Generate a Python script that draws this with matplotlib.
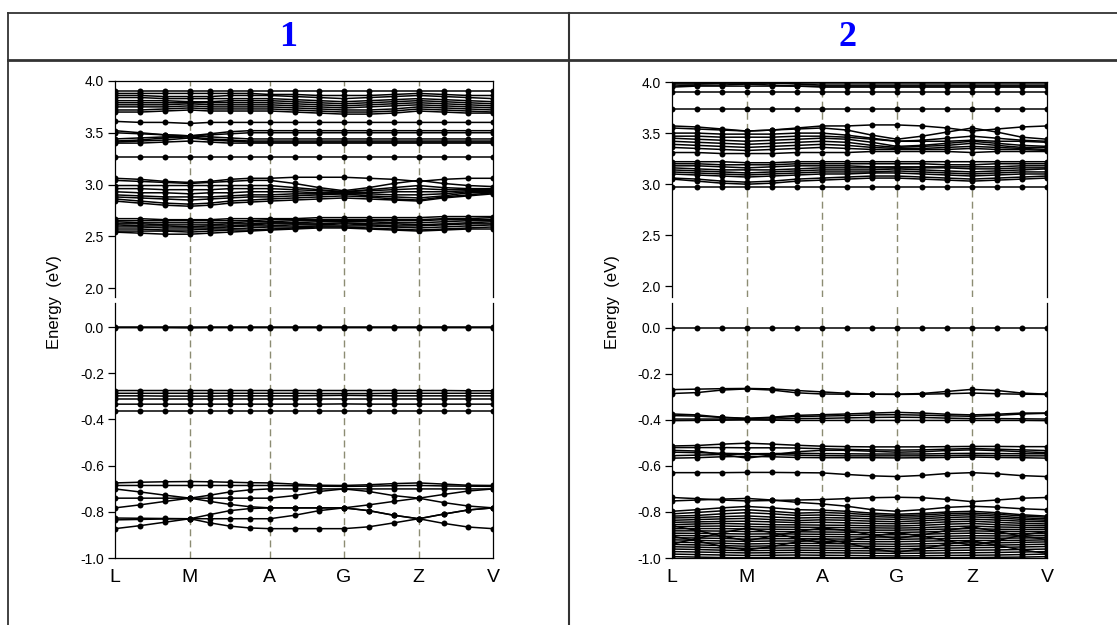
import matplotlib
matplotlib.use("Agg")
import matplotlib.pyplot as plt
from matplotlib.lines import Line2D

plt.rcParams['font.family'] = ['Liberation Sans', 'DejaVu Sans']
plt.rcParams['axes.unicode_minus'] = False

# k-path (distance along path) and labels
sym_labels = ["L", "M", "A", "G", "Z", "V"]
k1 = [0, 0.333, 0.667, 1.0, 1.267, 1.533, 1.8, 2.067, 2.396, 2.724, 3.053,
      3.387, 3.72, 4.053, 4.384, 4.714, 5.044]
k1_sym = [0, 1.0, 2.067, 3.053, 4.053, 5.044]
k2 = [0, 0.333, 0.667, 1.0, 1.333, 1.667, 2.0, 2.333, 2.667, 3.0, 3.333,
      3.667, 4.0, 4.333, 4.667, 5.0]
k2_sym = [0, 1.0, 2.0, 3.0, 4.0, 5.0]

# ---- panel 1 bands (eV) ----
p1_cb_high = [
    [3.90,3.90,3.90,3.90,3.90,3.90,3.90,3.90,3.90,3.90,3.90,3.90,3.90,3.90,3.90,3.90,3.90],
    [3.88,3.88,3.88,3.88,3.88,3.88,3.88,3.87,3.87,3.86,3.86,3.86,3.87,3.88,3.87,3.86,3.86],
    [3.86,3.86,3.85,3.85,3.85,3.86,3.86,3.86,3.85,3.84,3.83,3.84,3.85,3.86,3.85,3.84,3.83],
    [3.84,3.84,3.83,3.83,3.83,3.83,3.83,3.83,3.82,3.81,3.80,3.81,3.82,3.83,3.82,3.81,3.80],
    [3.81,3.81,3.81,3.80,3.80,3.81,3.81,3.81,3.80,3.79,3.78,3.79,3.80,3.81,3.80,3.79,3.78],
    [3.79,3.79,3.79,3.79,3.79,3.79,3.79,3.79,3.78,3.77,3.76,3.77,3.78,3.79,3.78,3.77,3.76],
    [3.77,3.77,3.77,3.78,3.77,3.77,3.77,3.77,3.76,3.75,3.74,3.75,3.76,3.77,3.76,3.75,3.74],
    [3.75,3.75,3.75,3.76,3.75,3.75,3.75,3.75,3.74,3.73,3.72,3.72,3.73,3.75,3.74,3.73,3.72],
    [3.72,3.72,3.73,3.74,3.73,3.73,3.73,3.73,3.72,3.71,3.70,3.70,3.71,3.73,3.72,3.71,3.70],
    [3.70,3.70,3.71,3.72,3.71,3.71,3.71,3.71,3.70,3.69,3.68,3.68,3.69,3.71,3.70,3.69,3.69],
    [3.61,3.60,3.60,3.59,3.60,3.60,3.60,3.60,3.60,3.60,3.60,3.60,3.60,3.60,3.60,3.60,3.60],
]
p1_cb_mid = [
    [3.52,3.50,3.48,3.47,3.49,3.51,3.52,3.52,3.52,3.52,3.52,3.52,3.52,3.52,3.52,3.52,3.52],
    [3.50,3.49,3.48,3.47,3.48,3.49,3.50,3.50,3.50,3.50,3.50,3.50,3.50,3.50,3.50,3.50,3.50],
    [3.44,3.45,3.46,3.47,3.46,3.45,3.44,3.44,3.44,3.44,3.44,3.44,3.44,3.44,3.44,3.44,3.44],
    [3.42,3.43,3.45,3.46,3.44,3.43,3.42,3.42,3.42,3.42,3.42,3.42,3.42,3.42,3.42,3.42,3.42],
    [3.41,3.42,3.43,3.45,3.43,3.42,3.41,3.41,3.41,3.41,3.41,3.41,3.41,3.41,3.41,3.41,3.41],
    [3.40,3.40,3.41,3.42,3.41,3.40,3.40,3.40,3.40,3.40,3.40,3.40,3.40,3.40,3.40,3.40,3.40],
    [3.27,3.27,3.27,3.27,3.27,3.27,3.27,3.27,3.27,3.27,3.27,3.27,3.27,3.27,3.27,3.27,3.27],
]
p1_cb_3 = [
    [3.06,3.05,3.03,3.02,3.03,3.05,3.06,3.06,3.07,3.07,3.07,3.06,3.05,3.03,3.05,3.06,3.06],
    [3.04,3.03,3.02,3.01,3.02,3.03,3.04,3.04,3.01,2.97,2.94,2.97,3.01,3.04,3.01,2.99,2.98],
    [2.99,2.99,2.99,2.99,2.99,2.99,2.99,2.99,2.97,2.95,2.93,2.95,2.97,2.99,2.97,2.96,2.96],
    [2.96,2.96,2.95,2.95,2.95,2.96,2.96,2.96,2.95,2.94,2.93,2.94,2.95,2.96,2.95,2.95,2.95],
    [2.93,2.92,2.92,2.91,2.92,2.92,2.93,2.93,2.93,2.92,2.92,2.92,2.93,2.93,2.93,2.94,2.94],
    [2.90,2.89,2.88,2.88,2.88,2.89,2.90,2.90,2.91,2.91,2.91,2.91,2.90,2.90,2.91,2.93,2.93],
    [2.88,2.87,2.86,2.85,2.86,2.87,2.88,2.88,2.89,2.90,2.91,2.89,2.88,2.87,2.89,2.92,2.92],
    [2.86,2.84,2.82,2.81,2.82,2.84,2.85,2.86,2.87,2.88,2.89,2.88,2.86,2.85,2.88,2.90,2.92],
    [2.84,2.82,2.80,2.79,2.80,2.82,2.83,2.84,2.85,2.86,2.87,2.86,2.85,2.84,2.87,2.89,2.91],
]
p1_cb_low = [
    [2.67,2.67,2.66,2.66,2.66,2.67,2.67,2.67,2.67,2.68,2.68,2.68,2.68,2.68,2.69,2.69,2.69],
    [2.65,2.65,2.65,2.65,2.65,2.65,2.65,2.66,2.66,2.66,2.66,2.66,2.66,2.66,2.67,2.67,2.68],
    [2.64,2.63,2.63,2.63,2.63,2.63,2.64,2.64,2.65,2.65,2.65,2.65,2.65,2.65,2.66,2.66,2.66],
    [2.62,2.62,2.61,2.61,2.61,2.62,2.62,2.63,2.63,2.64,2.64,2.64,2.63,2.63,2.64,2.65,2.65],
    [2.61,2.60,2.60,2.59,2.60,2.60,2.61,2.62,2.62,2.62,2.63,2.62,2.62,2.61,2.62,2.63,2.64],
    [2.59,2.59,2.58,2.58,2.58,2.59,2.60,2.60,2.61,2.61,2.62,2.61,2.60,2.60,2.61,2.62,2.62],
    [2.57,2.57,2.56,2.56,2.57,2.57,2.58,2.59,2.59,2.60,2.60,2.60,2.59,2.58,2.59,2.60,2.61],
    [2.55,2.55,2.55,2.54,2.55,2.56,2.56,2.57,2.58,2.59,2.59,2.58,2.57,2.56,2.57,2.58,2.59],
    [2.54,2.53,2.52,2.52,2.53,2.54,2.55,2.56,2.57,2.58,2.58,2.57,2.56,2.55,2.56,2.57,2.57],
]
p1_vb_top = [
    [0.0,0.0,0.0,0.0,0.0,0.0,0.0,0.0,0.0,0.0,0.0,0.0,0.0,0.0,0.0,0.0,0.0],
    [-0.003,-0.003,-0.003,-0.004,-0.003,-0.003,-0.003,-0.003,-0.003,-0.003,-0.003,-0.003,-0.003,-0.003,-0.003,-0.003,-0.003],
]
p1_vb_mid = [
    [-0.275,-0.275,-0.275,-0.275,-0.275,-0.275,-0.275,-0.275,-0.275,-0.275,-0.275,-0.275,-0.275,-0.275,-0.275,-0.276,-0.276],
    [-0.287,-0.287,-0.287,-0.287,-0.287,-0.287,-0.287,-0.287,-0.287,-0.288,-0.288,-0.288,-0.287,-0.287,-0.287,-0.287,-0.287],
    [-0.298,-0.298,-0.299,-0.299,-0.299,-0.298,-0.298,-0.298,-0.298,-0.297,-0.296,-0.297,-0.298,-0.298,-0.298,-0.298,-0.298],
    [-0.312,-0.312,-0.312,-0.312,-0.312,-0.312,-0.312,-0.312,-0.312,-0.312,-0.312,-0.312,-0.312,-0.312,-0.312,-0.312,-0.312],
    [-0.334,-0.334,-0.334,-0.334,-0.334,-0.334,-0.334,-0.334,-0.334,-0.334,-0.333,-0.334,-0.334,-0.334,-0.334,-0.334,-0.334],
    [-0.362,-0.362,-0.362,-0.362,-0.362,-0.362,-0.362,-0.362,-0.362,-0.362,-0.362,-0.362,-0.362,-0.362,-0.362,-0.362,-0.362],
]
p1_vb_low = [
    [-0.675,-0.672,-0.670,-0.669,-0.670,-0.672,-0.674,-0.675,-0.680,-0.685,-0.686,-0.683,-0.678,-0.675,-0.680,-0.685,-0.686],
    [-0.686,-0.686,-0.686,-0.686,-0.686,-0.686,-0.686,-0.686,-0.687,-0.689,-0.690,-0.689,-0.687,-0.686,-0.688,-0.689,-0.690],
    [-0.701,-0.714,-0.728,-0.741,-0.755,-0.768,-0.778,-0.783,-0.783,-0.783,-0.783,-0.770,-0.755,-0.741,-0.725,-0.710,-0.701],
    [-0.741,-0.741,-0.741,-0.741,-0.741,-0.741,-0.741,-0.741,-0.730,-0.712,-0.701,-0.712,-0.730,-0.741,-0.760,-0.775,-0.783],
    [-0.783,-0.770,-0.755,-0.741,-0.728,-0.714,-0.705,-0.701,-0.701,-0.701,-0.701,-0.701,-0.701,-0.701,-0.701,-0.701,-0.701],
    [-0.827,-0.828,-0.829,-0.830,-0.830,-0.830,-0.830,-0.830,-0.815,-0.795,-0.783,-0.795,-0.815,-0.830,-0.810,-0.792,-0.783],
    [-0.835,-0.833,-0.831,-0.830,-0.812,-0.795,-0.786,-0.783,-0.783,-0.783,-0.783,-0.795,-0.815,-0.830,-0.850,-0.866,-0.873],
    [-0.873,-0.860,-0.845,-0.830,-0.848,-0.862,-0.870,-0.873,-0.873,-0.873,-0.873,-0.865,-0.848,-0.830,-0.810,-0.792,-0.783],
]

# ---- panel 2 bands (eV) ----
p2_cb_high = [
    [3.99,3.99,3.99,3.99,3.99,3.99,3.99,3.99,3.99,3.99,3.99,3.99,3.99,3.99,3.99,3.99],
    [3.98,3.98,3.99,3.99,3.99,3.98,3.97,3.97,3.97,3.97,3.97,3.97,3.97,3.97,3.97,3.97],
    [3.96,3.97,3.97,3.98,3.97,3.96,3.96,3.96,3.96,3.96,3.96,3.96,3.96,3.96,3.96,3.96],
    [3.95,3.96,3.96,3.96,3.96,3.96,3.95,3.95,3.95,3.95,3.95,3.95,3.95,3.95,3.95,3.95],
    [3.90,3.90,3.90,3.90,3.90,3.90,3.90,3.90,3.90,3.90,3.90,3.90,3.90,3.90,3.90,3.90],
    [3.74,3.74,3.74,3.74,3.74,3.74,3.74,3.74,3.74,3.74,3.74,3.74,3.74,3.74,3.74,3.74],
]
p2_cb_mid = [
    [3.57,3.56,3.54,3.52,3.53,3.55,3.57,3.57,3.58,3.58,3.57,3.55,3.52,3.54,3.56,3.57],
    [3.55,3.54,3.53,3.52,3.53,3.54,3.55,3.53,3.48,3.44,3.47,3.51,3.55,3.51,3.46,3.44],
    [3.50,3.50,3.49,3.49,3.49,3.50,3.50,3.48,3.45,3.42,3.43,3.45,3.47,3.45,3.43,3.42],
    [3.47,3.47,3.46,3.46,3.46,3.47,3.47,3.46,3.44,3.42,3.42,3.42,3.43,3.42,3.42,3.41],
    [3.45,3.44,3.43,3.42,3.43,3.44,3.45,3.44,3.41,3.37,3.38,3.40,3.42,3.40,3.38,3.37],
    [3.42,3.41,3.40,3.39,3.40,3.41,3.42,3.41,3.38,3.36,3.37,3.38,3.40,3.38,3.36,3.36],
    [3.39,3.38,3.37,3.36,3.37,3.38,3.39,3.38,3.36,3.35,3.35,3.36,3.37,3.36,3.35,3.34],
    [3.36,3.35,3.34,3.33,3.34,3.35,3.36,3.35,3.34,3.34,3.34,3.34,3.35,3.34,3.34,3.33],
    [3.31,3.31,3.30,3.30,3.30,3.31,3.31,3.31,3.32,3.32,3.32,3.32,3.31,3.32,3.32,3.32],
]
p2_cb_low = [
    [3.22,3.22,3.22,3.21,3.21,3.22,3.22,3.22,3.22,3.22,3.22,3.22,3.22,3.22,3.22,3.22],
    [3.20,3.20,3.19,3.19,3.19,3.20,3.20,3.20,3.20,3.20,3.20,3.19,3.19,3.20,3.20,3.20],
    [3.18,3.18,3.17,3.16,3.17,3.18,3.18,3.18,3.17,3.17,3.17,3.17,3.17,3.17,3.18,3.18],
    [3.16,3.15,3.14,3.14,3.14,3.15,3.16,3.16,3.16,3.16,3.16,3.16,3.15,3.15,3.16,3.16],
    [3.14,3.13,3.12,3.11,3.12,3.13,3.14,3.14,3.14,3.15,3.14,3.13,3.12,3.13,3.14,3.15],
    [3.12,3.11,3.10,3.09,3.10,3.11,3.12,3.12,3.12,3.13,3.12,3.11,3.10,3.11,3.12,3.12],
    [3.10,3.09,3.08,3.07,3.08,3.09,3.10,3.10,3.11,3.11,3.10,3.09,3.08,3.09,3.10,3.10],
    [3.06,3.05,3.03,3.02,3.03,3.05,3.06,3.07,3.08,3.08,3.07,3.06,3.05,3.06,3.07,3.08],
    [3.05,3.03,3.01,3.00,3.01,3.03,3.04,3.05,3.06,3.06,3.05,3.04,3.03,3.04,3.05,3.06],
    [2.97,2.97,2.97,2.97,2.97,2.97,2.97,2.97,2.97,2.97,2.97,2.97,2.97,2.97,2.97,2.97],
]
p2_vb_top = [
    [0.0,0.0,0.0,0.0,0.0,0.0,0.0,0.0,0.0,0.0,0.0,0.0,0.0,0.0,0.0,0.0],
    [-0.268,-0.266,-0.264,-0.263,-0.265,-0.272,-0.278,-0.284,-0.288,-0.288,-0.285,-0.276,-0.267,-0.272,-0.283,-0.288],
    [-0.285,-0.281,-0.270,-0.265,-0.270,-0.282,-0.287,-0.288,-0.288,-0.289,-0.288,-0.286,-0.283,-0.286,-0.288,-0.289],
]
p2_vb_mid = [
    [-0.374,-0.378,-0.388,-0.393,-0.388,-0.380,-0.377,-0.374,-0.370,-0.367,-0.370,-0.375,-0.378,-0.375,-0.370,-0.370],
    [-0.381,-0.383,-0.389,-0.394,-0.390,-0.385,-0.383,-0.381,-0.378,-0.377,-0.379,-0.382,-0.384,-0.380,-0.374,-0.371],
    [-0.396,-0.396,-0.396,-0.397,-0.396,-0.394,-0.393,-0.391,-0.389,-0.388,-0.389,-0.392,-0.394,-0.394,-0.395,-0.396],
    [-0.403,-0.402,-0.401,-0.400,-0.401,-0.402,-0.402,-0.402,-0.402,-0.402,-0.402,-0.402,-0.402,-0.402,-0.402,-0.403],
    [-0.513,-0.511,-0.505,-0.501,-0.505,-0.510,-0.514,-0.516,-0.517,-0.517,-0.517,-0.516,-0.515,-0.515,-0.516,-0.516],
    [-0.520,-0.520,-0.520,-0.521,-0.521,-0.522,-0.525,-0.528,-0.530,-0.531,-0.530,-0.527,-0.524,-0.527,-0.530,-0.533],
    [-0.532,-0.535,-0.550,-0.566,-0.552,-0.538,-0.532,-0.532,-0.536,-0.540,-0.538,-0.533,-0.530,-0.533,-0.538,-0.542],
    [-0.540,-0.542,-0.545,-0.547,-0.546,-0.545,-0.546,-0.547,-0.548,-0.548,-0.548,-0.546,-0.545,-0.546,-0.547,-0.547],
    [-0.555,-0.553,-0.550,-0.548,-0.550,-0.553,-0.555,-0.556,-0.556,-0.556,-0.556,-0.555,-0.553,-0.555,-0.556,-0.556],
    [-0.566,-0.564,-0.560,-0.558,-0.560,-0.563,-0.564,-0.564,-0.564,-0.565,-0.564,-0.563,-0.561,-0.563,-0.564,-0.566],
    [-0.629,-0.629,-0.629,-0.628,-0.628,-0.629,-0.630,-0.637,-0.643,-0.646,-0.641,-0.633,-0.629,-0.634,-0.642,-0.646],
    [-0.737,-0.742,-0.748,-0.752,-0.750,-0.748,-0.746,-0.742,-0.738,-0.736,-0.738,-0.745,-0.755,-0.748,-0.740,-0.737],
    [-0.752,-0.748,-0.744,-0.741,-0.748,-0.758,-0.765,-0.775,-0.790,-0.797,-0.790,-0.780,-0.775,-0.779,-0.786,-0.790],
]
p2_vb_low = [
    [-0.797,-0.790,-0.782,-0.776,-0.782,-0.790,-0.792,-0.797,-0.805,-0.810,-0.806,-0.800,-0.797,-0.803,-0.812,-0.818],
    [-0.808,-0.802,-0.795,-0.790,-0.797,-0.805,-0.802,-0.806,-0.812,-0.816,-0.813,-0.807,-0.805,-0.810,-0.817,-0.823],
    [-0.818,-0.815,-0.808,-0.803,-0.808,-0.815,-0.813,-0.816,-0.820,-0.823,-0.821,-0.815,-0.812,-0.818,-0.825,-0.830],
    [-0.826,-0.824,-0.820,-0.817,-0.822,-0.826,-0.824,-0.826,-0.830,-0.832,-0.829,-0.824,-0.821,-0.826,-0.832,-0.836],
    [-0.836,-0.833,-0.830,-0.828,-0.833,-0.837,-0.834,-0.836,-0.840,-0.842,-0.838,-0.833,-0.831,-0.835,-0.840,-0.843],
    [-0.845,-0.843,-0.841,-0.840,-0.843,-0.846,-0.845,-0.847,-0.850,-0.851,-0.848,-0.843,-0.840,-0.845,-0.849,-0.852],
    [-0.855,-0.852,-0.850,-0.852,-0.855,-0.856,-0.857,-0.858,-0.860,-0.861,-0.858,-0.853,-0.850,-0.855,-0.858,-0.860],
    [-0.864,-0.862,-0.861,-0.863,-0.865,-0.866,-0.867,-0.868,-0.869,-0.870,-0.868,-0.864,-0.861,-0.865,-0.867,-0.868],
    [-0.873,-0.872,-0.872,-0.874,-0.875,-0.876,-0.877,-0.878,-0.879,-0.879,-0.877,-0.874,-0.872,-0.875,-0.876,-0.876],
    [-0.882,-0.882,-0.883,-0.885,-0.885,-0.886,-0.887,-0.888,-0.889,-0.889,-0.887,-0.884,-0.882,-0.884,-0.885,-0.885],
    [-0.892,-0.893,-0.894,-0.896,-0.895,-0.896,-0.897,-0.898,-0.899,-0.899,-0.897,-0.894,-0.892,-0.894,-0.894,-0.894],
    [-0.902,-0.903,-0.905,-0.907,-0.906,-0.906,-0.907,-0.908,-0.909,-0.909,-0.907,-0.905,-0.903,-0.904,-0.904,-0.903],
    [-0.912,-0.913,-0.915,-0.918,-0.916,-0.916,-0.917,-0.918,-0.919,-0.919,-0.917,-0.915,-0.913,-0.914,-0.913,-0.912],
    [-0.921,-0.923,-0.926,-0.928,-0.926,-0.926,-0.927,-0.928,-0.929,-0.929,-0.927,-0.925,-0.924,-0.924,-0.923,-0.921],
    [-0.931,-0.933,-0.936,-0.939,-0.937,-0.936,-0.937,-0.938,-0.939,-0.940,-0.938,-0.936,-0.934,-0.934,-0.932,-0.930],
    [-0.941,-0.943,-0.946,-0.949,-0.947,-0.946,-0.947,-0.948,-0.949,-0.950,-0.948,-0.946,-0.945,-0.944,-0.942,-0.940],
    [-0.951,-0.953,-0.956,-0.958,-0.957,-0.956,-0.957,-0.958,-0.959,-0.960,-0.958,-0.957,-0.955,-0.954,-0.952,-0.950],
    [-0.961,-0.963,-0.966,-0.968,-0.967,-0.966,-0.967,-0.968,-0.969,-0.970,-0.969,-0.967,-0.966,-0.965,-0.963,-0.961],
    [-0.972,-0.974,-0.976,-0.978,-0.977,-0.976,-0.977,-0.978,-0.979,-0.980,-0.979,-0.978,-0.977,-0.976,-0.974,-0.972],
    [-0.983,-0.985,-0.987,-0.989,-0.988,-0.987,-0.988,-0.989,-0.990,-0.991,-0.990,-0.989,-0.988,-0.987,-0.985,-0.983],
    [-0.994,-0.996,-0.998,-0.999,-0.998,-0.998,-0.998,-0.999,-0.999,-0.999,-0.999,-0.999,-0.998,-0.997,-0.996,-0.994],
    [-0.860,-0.880,-0.905,-0.925,-0.905,-0.885,-0.870,-0.880,-0.900,-0.915,-0.900,-0.880,-0.865,-0.885,-0.905,-0.920],
    [-0.940,-0.915,-0.890,-0.870,-0.890,-0.915,-0.935,-0.925,-0.905,-0.890,-0.905,-0.925,-0.945,-0.925,-0.900,-0.885],
    [-0.905,-0.925,-0.950,-0.965,-0.950,-0.930,-0.915,-0.935,-0.960,-0.975,-0.960,-0.940,-0.925,-0.945,-0.965,-0.980],
]

panel_titles = ["1", "2"]
top_ticks = [2.0, 2.5, 3.0, 3.5, 4.0]
bot_ticks = [-1.0, -0.8, -0.6, -0.4, -0.2, 0.0]

W, H = 1117, 625
fig = plt.figure(figsize=(W / 100, H / 100), dpi=100)


def px_axes(x0, y0, x1, y1):
    # axes box given in pixels from the top-left corner
    return fig.add_axes([x0 / W, 1 - y1 / H, (x1 - x0) / W, (y1 - y0) / H])


def fig_line(x0, y0, x1, y1, lw=1.3):
    fig.add_artist(Line2D([x0 / W, x1 / W], [1 - y0 / H, 1 - y1 / H],
                          color="#333333", lw=lw, transform=fig.transFigure))


# table frame
fig_line(8, 13, W, 13)
fig_line(8, 60, W, 60, lw=2.0)
fig_line(8, 13, 8, H)
fig_line(569, 13, 569, H, lw=1.5)
for title, xc in zip(panel_titles, [288, 848]):
    fig.text(xc / W, 1 - 38 / H, title, color="#0000ff", fontsize=26,
             fontweight="bold", family=["Liberation Serif", "DejaVu Serif"],
             ha="center", va="center")


def style_axes(ax_t, ax_b, k, ksym, bands, ylo_t, yhi_b):
    for ax in (ax_t, ax_b):
        for b in bands:
            ax.plot(k, b, color="black", lw=1.1, marker="o", ms=4.3,
                    markeredgewidth=0, zorder=3)
        for xs in ksym[1:-1]:
            ax.axvline(xs, color="#8c8c72", lw=1.0, ls=(0, (5, 3)), zorder=1)
        ax.set_xlim(ksym[0], ksym[-1])
        ax.tick_params(axis="y", direction="out", length=5, width=0.9,
                       labelsize=10, pad=3)
        for s in ax.spines.values():
            s.set_linewidth(0.9)
    ax_t.set_ylim(ylo_t, 4.0)
    ax_t.set_yticks(top_ticks)
    ax_t.set_yticklabels(["%.1f" % v for v in top_ticks])
    ax_t.spines["bottom"].set_visible(False)
    ax_t.set_xticks([])
    ax_b.set_ylim(-1.0, yhi_b)
    ax_b.set_yticks(bot_ticks)
    ax_b.set_yticklabels(["%.1f" % v for v in bot_ticks])
    ax_b.spines["top"].set_visible(False)
    ax_b.set_xticks(ksym)
    ax_b.set_xticklabels(sym_labels, fontsize=14)
    ax_b.tick_params(axis="x", length=0, pad=8)


# panel 1
ax1t = px_axes(115, 81, 493, 297)
ax1b = px_axes(115, 303, 493, 558)
style_axes(ax1t, ax1b, k1, k1_sym,
           p1_cb_high + p1_cb_mid + p1_cb_3 + p1_cb_low + p1_vb_top + p1_vb_mid + p1_vb_low,
           4.0 - 216 / 103.5, 24 / 231)
fig.text(55 / W, 1 - 302 / H, "Energy  (eV)", rotation=90, fontsize=12,
         ha="center", va="center")

# panel 2
ax2t = px_axes(672, 82, 1047, 297)
ax2b = px_axes(672, 303, 1047, 558)
style_axes(ax2t, ax2b, k2, k2_sym,
           p2_cb_high + p2_cb_mid + p2_cb_low + p2_vb_top + p2_vb_mid + p2_vb_low,
           4.0 - 215 / 102.2, 25 / 230.6)
fig.text(612 / W, 1 - 302 / H, "Energy  (eV)", rotation=90, fontsize=12,
         ha="center", va="center")

fig.savefig("out.png", dpi=100, facecolor="white")
